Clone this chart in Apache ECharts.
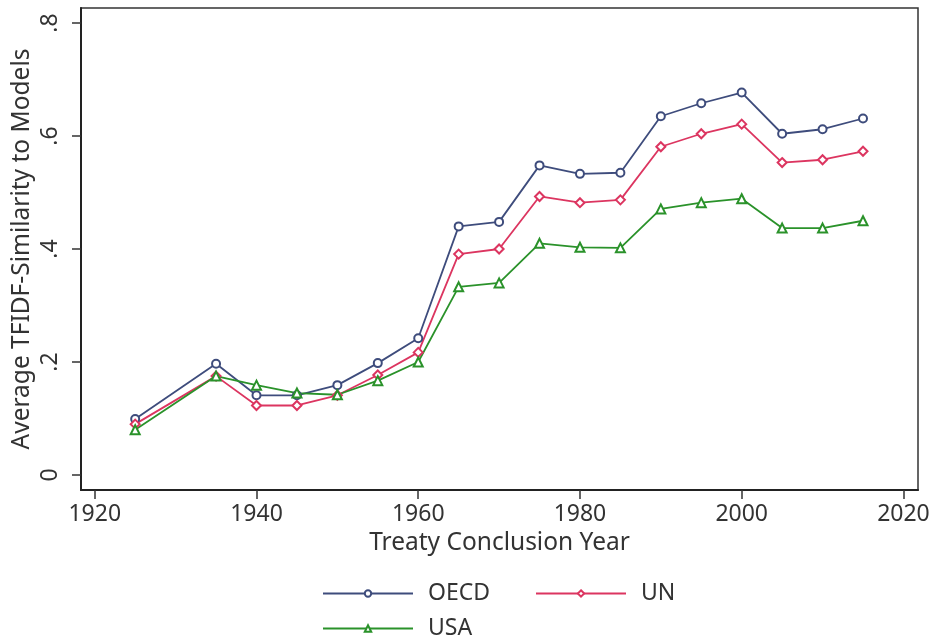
<!DOCTYPE html>
<html>
<head>
<meta charset="utf-8">
<script src="https://cdn.jsdelivr.net/npm/echarts@6/dist/echarts.min.js"></script>
<style>
  html, body { margin: 0; padding: 0; background: #fff; }
  #chart { width: 936px; height: 644px; }
</style>
</head>
<body>
<div id="chart"></div>
<script>
var years = [1925, 1935, 1940, 1945, 1950, 1955, 1960, 1965, 1970, 1975, 1980, 1985, 1990, 1995, 2000, 2005, 2010, 2015]
var oecd = [0.099, 0.197, 0.141, 0.141, 0.159, 0.198, 0.242, 0.440, 0.448, 0.548, 0.533, 0.535, 0.635, 0.658, 0.677, 0.604, 0.612, 0.631]
var un = [0.090, 0.175, 0.123, 0.123, 0.141, 0.177, 0.217, 0.391, 0.400, 0.493, 0.482, 0.487, 0.581, 0.604, 0.621, 0.553, 0.558, 0.573]
var usa = [0.080, 0.175, 0.159, 0.145, 0.142, 0.167, 0.200, 0.333, 0.340, 0.410, 0.403, 0.402, 0.471, 0.482, 0.489, 0.437, 0.437, 0.450]
var xTicks = [1920, 1940, 1960, 1980, 2000, 2020]
var yTicks = [0, 0.2, 0.4, 0.6, 0.8]

var lines = [
  { name: 'OECD', data: oecd, symbol: 'emptyCircle', size: 8, color: '#3e4c7c' },
  { name: 'UN', data: un, symbol: 'emptyDiamond', size: 9, color: '#dc3560' },
  { name: 'USA', data: usa, symbol: 'emptyTriangle', size: 9, color: '#2a922a' }
]

var font = 'Noto Sans'
var textColor = '#333'

function legendFor(name, left, top) {
  return {
    data: [name],
    left: left,
    top: top,
    padding: 0,
    itemWidth: 90,
    itemHeight: 8,
    textStyle: {
      fontFamily: font,
      fontSize: 23,
      color: textColor,
      padding: [0, 0, 0, 10]
    }
  }
}

var chart = echarts.init(document.getElementById('chart'))
var option = {
  animation: false,
  backgroundColor: '#fff',
  legend: [
    legendFor('OECD', 322, 582),
    legendFor('UN', 535, 582),
    legendFor('USA', 322, 617)
  ],
  grid: {
    left: 81,
    top: 8,
    right: 18,
    bottom: 154,
    outerBoundsMode: 'none',
    containLabel: false,
    show: true,
    borderColor: '#333',
    borderWidth: 1.5
  },
  xAxis: {
    type: 'value',
    min: 1918.3,
    max: 2021.8,
    name: 'Treaty Conclusion Year',
    nameLocation: 'middle',
    nameGap: 41,
    nameMoveOverlap: false,
    nameTextStyle: { fontFamily: font, fontSize: 24.5, color: textColor },
    axisLine: { onZero: false, lineStyle: { color: '#222', width: 2 } },
    axisTick: {
      customValues: xTicks,
      length: 9,
      lineStyle: { color: '#333', width: 1.5 }
    },
    axisLabel: {
      customValues: xTicks,
      margin: 13,
      fontFamily: font,
      fontSize: 23,
      color: textColor,
      formatter: function (v) { return String(v) }
    },
    splitLine: { show: false }
  },
  yAxis: {
    type: 'value',
    min: -0.0266,
    max: 0.8266,
    name: 'Average TFIDF-Similarity to Models',
    nameLocation: 'middle',
    nameGap: 46,
    nameRotate: 90,
    nameMoveOverlap: false,
    nameTextStyle: { fontFamily: font, fontSize: 24.5, color: textColor },
    axisLine: { show: true, onZero: false, lineStyle: { color: '#222', width: 2 } },
    axisTick: {
      show: true,
      customValues: yTicks,
      length: 9,
      lineStyle: { color: '#333', width: 1.5 }
    },
    axisLabel: {
      customValues: yTicks,
      rotate: 90,
      margin: 19,
      fontFamily: font,
      fontSize: 23,
      color: textColor,
      formatter: function (v) {
        if (v === 0) return '0'
        return String(Math.round(v * 10) / 10).replace(/^0/, '')
      }
    },
    splitLine: { show: false }
  },
  series: []
}

var series_data = []
lines.forEach(function (l) {
  series_data.push({
    name: l.name,
    type: 'line',
    symbol: l.symbol,
    symbolSize: l.size,
    data: years.map(function (y, i) { return [y, l.data[i]] }),
    lineStyle: { color: l.color, width: 1.8 },
    itemStyle: { color: l.color, borderColor: l.color, borderWidth: 1.5 }
  })
})
option.series = series_data
chart.setOption(option)
</script>
</body>
</html>
